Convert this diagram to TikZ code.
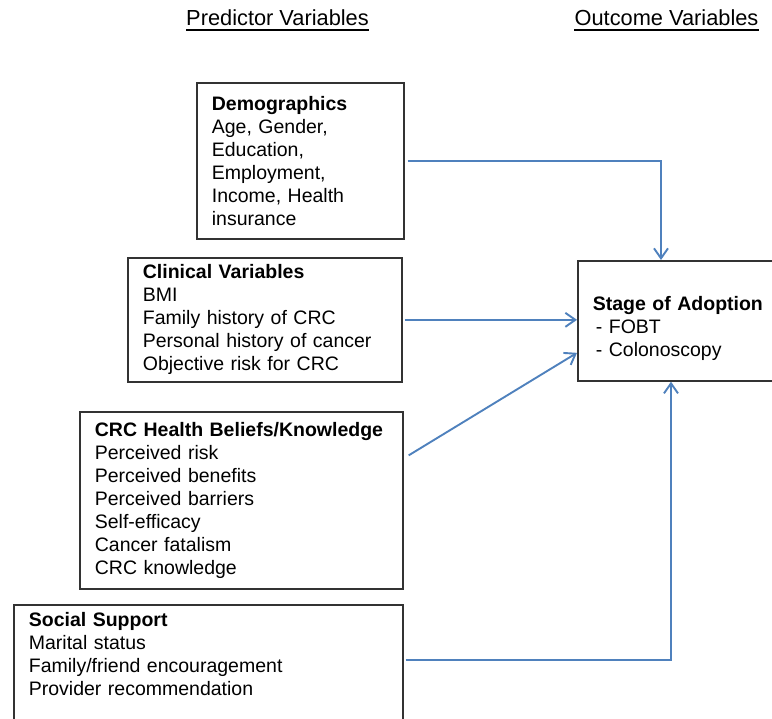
\documentclass[tikz,border=0pt]{standalone}
\usepackage{fontspec}
\setmainfont{Liberation Sans}
\usetikzlibrary{arrows.meta}

\definecolor{linkblue}{RGB}{79,129,189}
\definecolor{boxgray}{RGB}{51,51,51}

\tikzset{
  varbox/.style={draw=boxgray, line width=1.7pt, anchor=north west, align=left,
    inner xsep=15pt, inner ysep=0pt, font=\fontsize{19.5}{23}\selectfont},
  link/.style={draw=linkblue, line width=1.9pt, -{Straight Barb[length=10pt,width=14pt]}},
  heading/.style={anchor=base, inner sep=0pt, font=\fontsize{21.8}{25}\selectfont}
}

\begin{document}
\begin{tikzpicture}[x=1pt,y=-1pt]
    \useasboundingbox (0,0) rectangle (772,719);
    \clip (0,0) rectangle (772,719);
    % column headings
    \node[heading] (pred) at (277.5,26) {Predictor Variables};
    \node[heading] (outc) at (666.5,26) {Outcome Variables};
    \draw[line width=1.6pt] ([yshift=-4pt]pred.base west) -- ([yshift=-4pt]pred.base east);
    \draw[line width=1.6pt] ([yshift=-4pt]outc.base west) -- ([yshift=-4pt]outc.base east);
    % predictor boxes
    \node[varbox, text width=177pt, minimum height=156pt] (demo) at (196,82)
      {\textbf{Demographics}\\Age, Gender,\\Education,\\Employment,\\Income, Health\\insurance};
    \node[varbox, text width=244pt, minimum height=124pt] (clin) at (127,257)
      {\textbf{Clinical Variables}\\BMI\\Family history of CRC\\Personal history of cancer\\Objective risk for CRC};
    \node[varbox, text width=293pt, minimum height=177pt] (crc) at (79,411)
      {\textbf{CRC Health Beliefs/Knowledge}\\Perceived risk\\Perceived benefits\\Perceived barriers\\Self-efficacy\\Cancer fatalism\\CRC knowledge};
    \node[varbox, text width=359pt, inner ysep=8pt] (soc) at (13,604)
      {\textbf{Social Support}\\Marital status\\Family/friend encouragement\\Provider recommendation\\\mbox{}\\\mbox{}};
    % outcome box
    \node[varbox, text width=200pt, minimum height=120pt] (stage) at (577,260)
      {\rule{0pt}{30pt}\textbf{Stage of Adoption}\\\hspace{3pt}- FOBT\\\hspace{3pt}- Colonoscopy};
    % arrows
    \draw[link] ([xshift=3pt]demo.east) -| ([xshift=84pt]stage.north west);
    \draw[link] ([xshift=2pt]clin.east) -- (stage.west |- clin.east);
    \draw[link] ([xshift=5pt,yshift=45pt]crc.east) -- ([yshift=-32pt]stage.west);
    \draw[link] ([xshift=2pt,yshift=-56pt]soc.north east) -| ([xshift=94pt]stage.south west);
\end{tikzpicture}
\end{document}
